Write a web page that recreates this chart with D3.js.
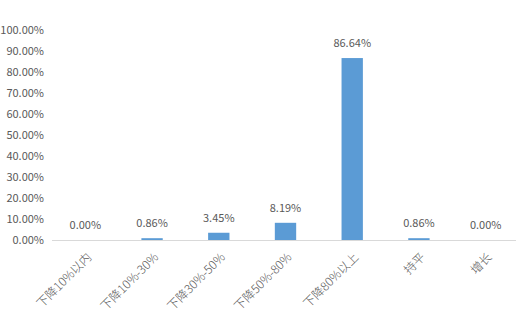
<!DOCTYPE html>
<meta charset="utf-8">
<html>
  <head>
    <style>
      body { margin: 0; background: #fff; }
      text { font-family: "Noto Sans CJK SC", "Open Sans", sans-serif; fill: #595959; }
    </style>
  </head>
  <body>
    <div id="chart"></div>
  </body>
<script src="https://d3js.org/d3.v7.min.js"></script>
<script>
// categories and values (percent)
var categories = ["下降10%以内", "下降10%-30%", "下降30%-50%", "下降50%-80%", "下降80%以上", "持平", "增长"]
var values = [0.00, 0.86, 3.45, 8.19, 86.64, 0.86, 0.00]
var yTicks = [0, 10, 20, 30, 40, 50, 60, 70, 80, 90, 100]

var W = 518, H = 312

var svg = d3.select("#chart")
  .append("svg")
    .attr("width", W)
    .attr("height", H)

var x = d3.scaleBand()
  .domain(categories)
  .range([52, 519])
  .paddingInner(0.68)
  .paddingOuter(0.34)

var y = d3.scaleLinear()
  .domain([0, 100])
  .range([240, 30])

// y tick labels
svg.selectAll(".ytick")
  .data(yTicks)
  .enter()
  .append("text")
    .attr("x", 44)
    .attr("y", function(d) { return y(d) })
    .attr("dy", "0.35em")
    .attr("text-anchor", "end")
    .style("font-size", "11px")
    .text(function(d) { return d.toFixed(2) + "%" })

// bars
svg.selectAll(".bar")
  .data(values)
  .enter()
  .append("rect")
    .attr("x", function(d, i) { return x(categories[i]) })
    .attr("width", x.bandwidth())
    .attr("y", function(d) { return y(d) })
    .attr("height", function(d) { return y(0) - y(d) })
    .style("fill", "#5b9bd5")

// baseline
svg.append("line")
  .attr("x1", 52)
  .attr("x2", 516)
  .attr("y1", y(0) + 0.5)
  .attr("y2", y(0) + 0.5)
  .style("stroke", "#d9d9d9")
  .style("stroke-width", 1)

// value labels
svg.selectAll(".val")
  .data(values)
  .enter()
  .append("text")
    .attr("x", function(d, i) { return x(categories[i]) + x.bandwidth() / 2 })
    .attr("y", function(d) { return y(d) - 11 })
    .attr("text-anchor", "middle")
    .style("font-size", "11px")
    .text(function(d) { return d.toFixed(2) + "%" })

// category labels
svg.selectAll(".cat")
  .data(categories)
  .enter()
  .append("text")
    .attr("transform", function(d) {
      return "translate(" + (x(d) + x.bandwidth() / 2 + 4) + ",255) rotate(-45)"
    })
    .attr("text-anchor", "end")
    .attr("dy", "0.35em")
    .style("font-size", "12px")
    .style("font-weight", 300)
    .text(function(d) { return d })
</script>
</html>
